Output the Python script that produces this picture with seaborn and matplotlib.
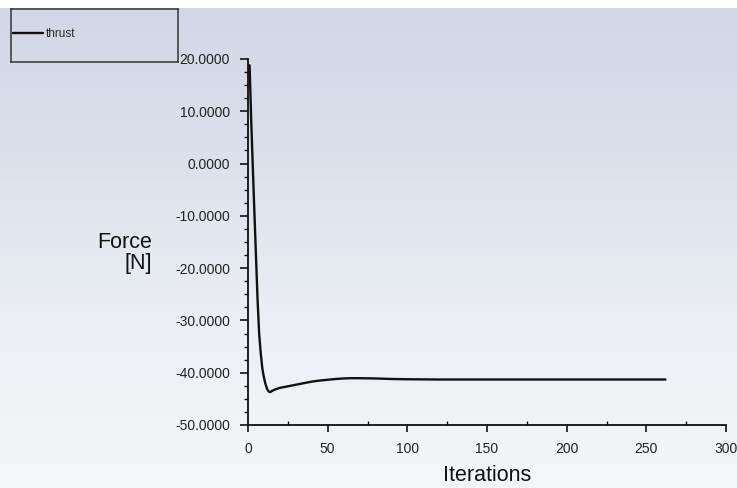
import numpy as np
import matplotlib
matplotlib.use("Agg")
import matplotlib.pyplot as plt
import matplotlib.ticker as mticker
from matplotlib.colors import LinearSegmentedColormap
import seaborn as sns

# Thrust history over the solver iterations
iterations = [1, 2, 3, 4, 5, 6, 7, 8, 9, 10, 11, 12, 13, 14, 15, 17, 20,
              25, 30, 35, 40, 45, 50, 55, 60, 65, 70, 80, 90, 100, 120,
              150, 200, 262]
thrust = [18.8, 8.3, -0.5, -9.2, -17.6, -26.0, -32.5, -36.3, -39.2, -40.9,
          -42.2, -43.1, -43.6, -43.7, -43.5, -43.2, -42.9, -42.6, -42.3,
          -42.0, -41.7, -41.5, -41.35, -41.2, -41.1, -41.05, -41.05, -41.1,
          -41.2, -41.25, -41.3, -41.3, -41.3, -41.3]
series_name = "thrust"
x_label = "Iterations"
y_label = "Force\n[N]"

sns.set_style("white")
plt.rcParams["font.family"] = ["Liberation Sans", "DejaVu Sans"]

W, H = 737, 488
fig = plt.figure(figsize=(W / 100, H / 100), dpi=100)
fig.patch.set_facecolor("white")

# Vertical background gradient below a thin white strip
bg = fig.add_axes([0, 0, 1, 1 - 8 / H], zorder=-10)
cmap = LinearSegmentedColormap.from_list(
    "bg", ["#f5f6f8", "#eceff4", "#dde1ec", "#d2d7e7"])
grad = np.linspace(0, 1, 256).reshape(-1, 1)
bg.imshow(grad, aspect="auto", cmap=cmap, origin="lower", extent=[0, 1, 0, 1])
bg.set_axis_off()

# Main plotting area
left, right = 248 / W, 726 / W
bottom, top = 1 - 425 / H, 1 - 59 / H
ax = fig.add_axes([left, bottom, right - left, top - bottom])
ax.set_facecolor("none")

sns.lineplot(x=iterations, y=thrust, ax=ax, color="#111111", linewidth=1.7,
             label=series_name, legend=False)

ax.set_xlim(0, 300)
ax.set_ylim(-50, 20)
ax.xaxis.set_major_locator(mticker.MultipleLocator(50))
ax.xaxis.set_minor_locator(mticker.MultipleLocator(25))
ax.yaxis.set_major_locator(mticker.MultipleLocator(10))
ax.yaxis.set_minor_locator(mticker.MultipleLocator(2.5))
ax.yaxis.set_major_formatter(mticker.FormatStrFormatter("%.4f"))

for s in ["top", "right"]:
    ax.spines[s].set_visible(False)
for s in ["left", "bottom"]:
    ax.spines[s].set_color("#111111")
    ax.spines[s].set_linewidth(1.3)

ax.tick_params(which="both", left=True, bottom=True, top=False, right=False)
ax.tick_params(axis="y", which="major", direction="out", length=6,
               width=1.2, pad=7, labelsize=10, colors="#111111")
ax.tick_params(axis="y", which="minor", direction="out", length=3,
               width=1.0, colors="#111111")
ax.tick_params(axis="x", which="major", direction="out", length=5,
               width=1.2, pad=7, labelsize=10, colors="#111111")
ax.tick_params(axis="x", which="minor", direction="in", length=3,
               width=1.0, colors="#111111")
ax.tick_params(labelcolor="#222222")

ax.set_xlabel(x_label, fontsize=15.5, color="#111111", labelpad=7)
ax.set_ylabel("")
fig.text(152 / W, 1 - 253 / H, y_label, ha="right", va="center",
         multialignment="right", fontsize=15.5, color="#111111",
         linespacing=1.05)

# Legend inside its own framed box
lax = fig.add_axes([11 / W, 1 - 62 / H, 167 / W, 53 / H])
lax.set_facecolor("none")
lax.set_xticks([])
lax.set_yticks([])
for s in lax.spines.values():
    s.set_visible(True)
    s.set_color("#333333")
    s.set_linewidth(1.1)
handles, labels = ax.get_legend_handles_labels()
lax.legend(handles, labels, loc="center left", bbox_to_anchor=(0, 0.52),
           frameon=False, fontsize=8.5, handlelength=2.55,
           handletextpad=0.25, borderaxespad=0, borderpad=0.15)

fig.savefig("out.png", dpi=100, facecolor=fig.get_facecolor())
